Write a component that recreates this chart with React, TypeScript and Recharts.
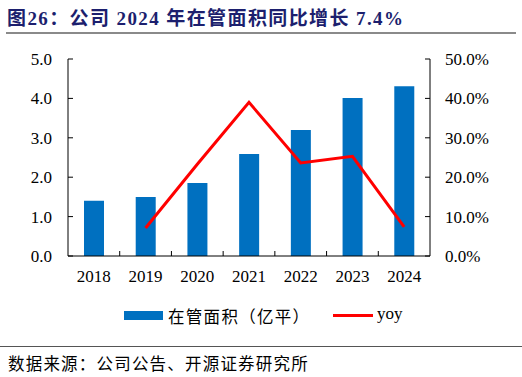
import React from 'react';
import { ComposedChart, Bar, Line, XAxis, YAxis } from 'recharts';

const years = ['2018', '2019', '2020', '2021', '2022', '2023', '2024'];
const area = [1.4, 1.5, 1.85, 2.59, 3.2, 4.01, 4.31];
const yoy: (number | null)[] = [null, 0.071, 0.233, 0.39, 0.236, 0.253, 0.074];
const leftTicks = [0, 1, 2, 3, 4, 5];
const rightTicks = [0, 0.1, 0.2, 0.3, 0.4, 0.5];

const data = years.map((y, i) => ({ year: y, area: area[i], yoy: yoy[i] }));

const serif = '"Liberation Serif", "Times New Roman", serif';
const cjk = '"Liberation Serif", "Noto Sans CJK SC", serif';

const XTick = (props: any) => {
  const { x, y, payload, index } = props;
  const off = payload && payload.offset ? payload.offset : 0;
  const axisY = y - 14;
  return (
    <g>
      {index > 0 && (
        <line x1={x - off} x2={x - off} y1={axisY} y2={axisY - 5} stroke="#000" strokeWidth={1} />
      )}
      <text x={x} y={y} dy="0.71em" textAnchor="middle" fontFamily={serif} fontSize={17} fill="#000">
        {payload.value}
      </text>
    </g>
  );
};

export default function App() {
  return (
    <div style={{ position: 'absolute', left: 0, top: 0, width: 522, height: 377, background: '#fff', overflow: 'hidden' }}>
      <div style={{ position: 'absolute', left: 7, top: 3, fontFamily: cjk, fontWeight: 'bold', fontSize: 19, color: '#1c1f6e', whiteSpace: 'nowrap', letterSpacing: 1.4 }}>
        图26：公司 2024 年在管面积同比增长 7.4%
      </div>
      <div style={{ position: 'absolute', left: 6, top: 32, width: 510, height: 2, background: '#8a8a8a' }} />
      <div style={{ position: 'absolute', left: 0, top: 0 }}>
        <ComposedChart width={522} height={300} data={data} margin={{ top: 59, right: 0, bottom: 0, left: 0 }}>
          <XAxis
            dataKey="year"
            height={44}
            tickLine={false}
            tickSize={0}
            tickMargin={14}
            axisLine={{ stroke: '#000' }}
            tick={<XTick />}
            interval={0}
          />
          <YAxis
            yAxisId="left"
            orientation="left"
            width={68}
            domain={[0, 5]}
            ticks={leftTicks}
            tickFormatter={(v: number) => v.toFixed(1)}
            tickSize={-5}
            tickMargin={21}
            axisLine={{ stroke: '#000' }}
            tickLine={{ stroke: '#000' }}
            tick={{ fontFamily: serif, fontSize: 17, fill: '#000' }}
            interval={0}
          />
          <YAxis
            yAxisId="right"
            orientation="right"
            width={92}
            domain={[0, 0.5]}
            ticks={rightTicks}
            tickFormatter={(v: number) => (v * 100).toFixed(1) + '%'}
            tickSize={-5}
            tickMargin={20}
            axisLine={{ stroke: '#000' }}
            tickLine={{ stroke: '#000' }}
            tick={{ fontFamily: serif, fontSize: 17, fill: '#000', textAnchor: 'start' }}
            interval={0}
          />
          <Bar yAxisId="left" dataKey="area" fill="#0070c0" barSize={20} isAnimationActive={false} />
          <Line yAxisId="right" dataKey="yoy" stroke="#ff0000" strokeWidth={3} dot={false} activeDot={false} isAnimationActive={false} />
        </ComposedChart>
      </div>
      <div style={{ position: 'absolute', left: 124, top: 311, width: 39, height: 9, background: '#0070c0' }} />
      <div style={{ position: 'absolute', left: 168, top: 304, fontFamily: cjk, fontSize: 16.5, color: '#000', whiteSpace: 'nowrap', letterSpacing: 1.3 }}>
        在管面积（亿平）
      </div>
      <div style={{ position: 'absolute', left: 333, top: 314, width: 40, height: 3, background: '#ff0000' }} />
      <div style={{ position: 'absolute', left: 377, top: 304, fontFamily: serif, fontSize: 17, color: '#000', whiteSpace: 'nowrap' }}>
        yoy
      </div>
      <div style={{ position: 'absolute', left: 0, top: 346, width: 522, height: 1, background: '#555' }} />
      <div style={{ position: 'absolute', left: 8, top: 351, fontFamily: cjk, fontSize: 16.5, color: '#000', whiteSpace: 'nowrap', letterSpacing: 1.2 }}>
        数据来源：公司公告、开源证券研究所
      </div>
    </div>
  );
}
